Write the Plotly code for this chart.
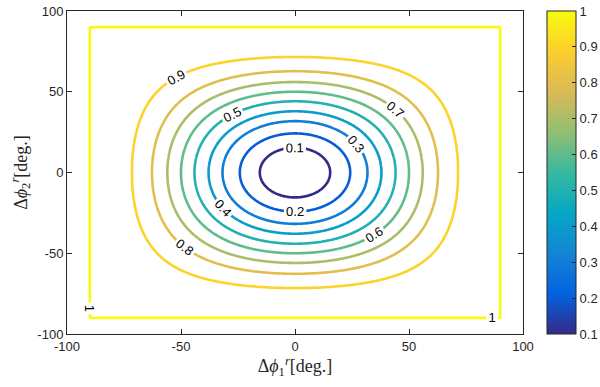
import numpy as np
import plotly.graph_objects as go

# ---- values ----
levels = [0.1, 0.2, 0.3, 0.4, 0.5, 0.6, 0.7, 0.8, 0.9, 1.0]
# distance (deg) from the centre where each level crosses the axes
axis_cross = [15.4, 24.2, 31.8, 37.9, 44.1, 50.0, 56.0, 62.7, 71.5, 90.0]
tick_vals = [-100, -50, 0, 50, 100]
tick_text = ["-100", "-50", "0", "50", "100"]
cbar_ticks = [0.1, 0.2, 0.3, 0.4, 0.5, 0.6, 0.7, 0.8, 0.9, 1.0]
cbar_text = ["0.1", "0.2", "0.3", "0.4", "0.5", "0.6", "0.7", "0.8", "0.9", "1"]

parula = [
    [0.0, "#352a87"], [0.125, "#0363e1"], [0.25, "#1485d4"],
    [0.375, "#06a7c6"], [0.5, "#38b99e"], [0.625, "#92bf73"],
    [0.75, "#d9ba56"], [0.875, "#fcce2e"], [1.0, "#f9fb0e"],
]

# grid: contour shapes follow cos(x)cos(y); level positions come from axis_cross
g = np.arange(-96, 96.01, 0.5)
c = np.cos(np.radians(np.clip(g, -90, 90)))
out = np.clip(np.abs(g) - 90, 0, None) / 90.0
CX, CY = np.meshgrid(c, c)
OX, OY = np.meshgrid(out, out)
U = 1 - CX * CY + OX + OY
u_knots = [0.0] + [1 - np.cos(np.radians(a)) for a in axis_cross]
z_knots = [0.0] + levels
Z = np.interp(U, u_knots, z_knots)
Z = np.where(U > 1, 1 + (U - 1), Z)
Z = np.round(Z, 5)

fig = go.Figure()
fig.add_trace(go.Contour(
    x=g, y=g, z=Z,
    zmin=0.1, zmax=1.0, zauto=False,
    colorscale=parula, showscale=False,
    contours=dict(start=0.1, end=1.00001, size=0.1, coloring="lines",
                  showlabels=True,
                  labelfont=dict(size=13, family="Liberation Sans", color="#000000")),
    line=dict(width=2.6, smoothing=0.6),
    hoverinfo="skip",
))
fig.add_trace(go.Scatter(
    x=[0, 0], y=[0, 0], mode="markers", hoverinfo="skip", showlegend=False,
    marker=dict(color=[0.1, 1.0], colorscale=parula, cmin=0.1, cmax=1.0, opacity=0,
                showscale=True,
                colorbar=dict(x=1.0526, xanchor="left", xpad=0, y=0.5, yanchor="middle",
                              ypad=0, len=1, lenmode="fraction",
                              thickness=29, thicknessmode="pixels",
                              outlinewidth=1, outlinecolor="#262626",
                              tickvals=cbar_ticks, ticktext=cbar_text,
                              ticks="inside", ticklen=4, tickcolor="#262626",
                              tickfont=dict(size=13, family="Liberation Sans", color="#262626"))),
))

axis_common = dict(
    range=[-100, 100], tickvals=tick_vals, ticktext=tick_text, ticks="inside", ticklen=5,
    tickcolor="#262626", showline=True, linecolor="#262626", linewidth=1,
    mirror="ticks", showgrid=False, zeroline=False,
    tickfont=dict(size=13, family="Liberation Sans", color="#262626"),
)
fig.update_layout(
    width=600, height=387,
    margin=dict(l=67, r=77, t=11, b=53, autoexpand=False),
    paper_bgcolor="white", plot_bgcolor="white",
    showlegend=False,
    xaxis=dict(**axis_common,
               title=dict(text="Δ<i>ϕ</i><sub>1</sub><sup><i>r</i></sup>[deg.]",
                          font=dict(size=18, family="Liberation Serif", color="#262626"),
                          standoff=5)),
    yaxis=dict(**axis_common,
               title=dict(text="Δ<i>ϕ</i><sub>2</sub><sup><i>r</i></sup>[deg.]",
                          font=dict(size=18, family="Liberation Serif", color="#262626"),
                          standoff=5)),
)
fig.write_html("out.html", config={"displayModeBar": False},
               post_script="document.body.style.margin='0px';document.body.style.padding='0px';")
